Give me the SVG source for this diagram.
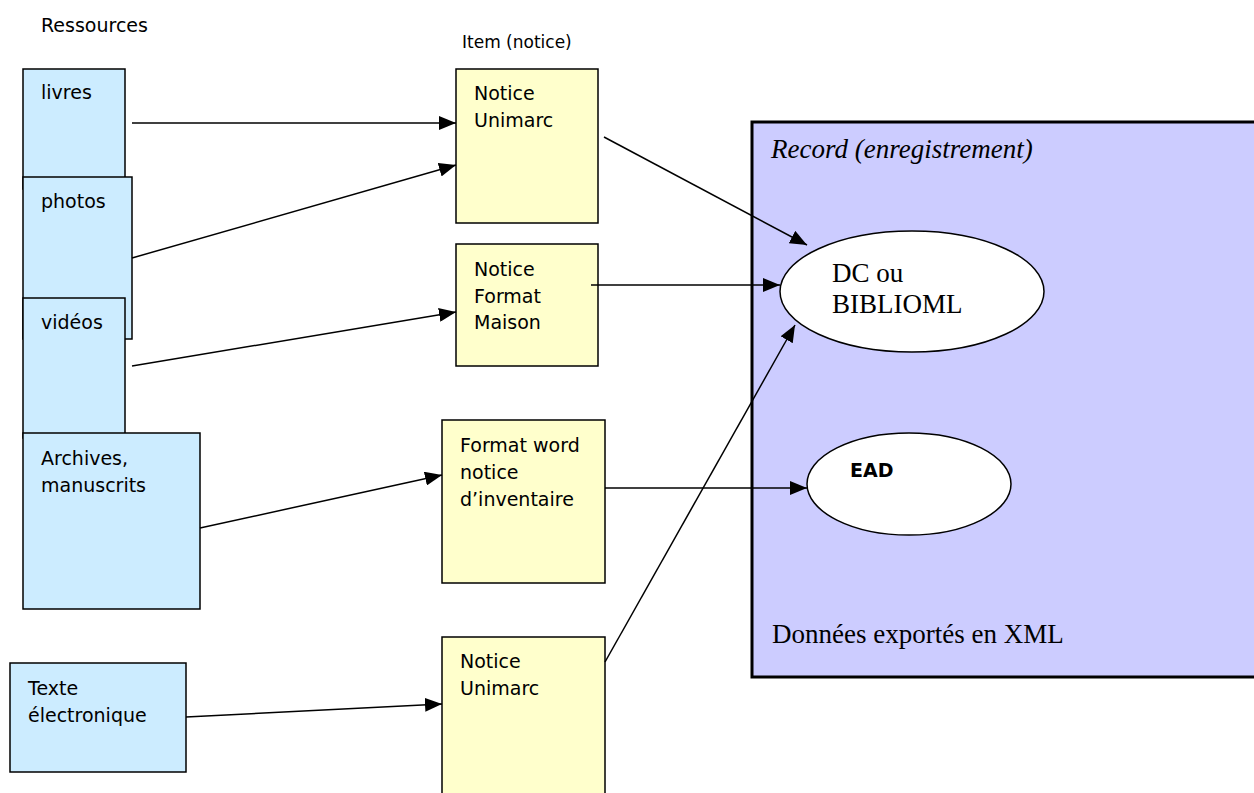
<svg xmlns="http://www.w3.org/2000/svg" width="1254" height="793" viewBox="0 0 1254 793">
<defs>
<style>
.res{fill:#CCECFF;stroke:#000;stroke-width:1.5}
.item{fill:#FFFFCC;stroke:#000;stroke-width:1.5}
.ell{fill:#fff;stroke:#000;stroke-width:1.5}
.sans{font-family:"DejaVu Sans","Verdana",sans-serif;font-size:19px;fill:#000}
.serif{font-family:"Liberation Serif","Times New Roman",serif;font-size:27px;fill:#000}
.conn line{stroke:#000;stroke-width:1.5;marker-end:url(#arr)}
</style>
<marker id="arr" markerUnits="userSpaceOnUse" markerWidth="17" markerHeight="14" refX="17" refY="7" orient="auto">
<path d="M0,0 L17,7 L0,14 z" fill="#000"/>
</marker>
</defs>
<rect width="1254" height="793" fill="#fff"/>
<text class="sans" x="41" y="32">Ressources</text>
<text class="sans" x="462" y="48" style="font-size:17px">Item (notice)</text>

<g id="record">
<rect x="752" y="122" width="510" height="555" fill="#CCCCFF" stroke="#000" stroke-width="3"/>
<text class="serif" x="771" y="158" font-style="italic">Record (enregistrement)</text>
<text class="serif" x="772" y="643">Données exportés en XML</text>
</g>

<g id="livres"><rect class="res" x="23" y="69" width="102" height="120"/><text class="sans" x="41" y="99">livres</text></g>
<g id="photos"><rect class="res" x="23" y="177" width="109" height="162"/><text class="sans" x="41" y="208">photos</text></g>
<g id="videos"><rect class="res" x="23" y="298" width="102" height="140"/><text class="sans" x="41" y="329">vidéos</text></g>
<g id="archives"><rect class="res" x="23" y="433" width="177" height="176"/><text class="sans" x="41" y="465">Archives,</text><text class="sans" x="41" y="492">manuscrits</text></g>
<g id="texte"><rect class="res" x="10" y="663" width="176" height="109"/><text class="sans" x="28" y="695">Texte</text><text class="sans" x="28" y="722">électronique</text></g>

<g id="unimarc1"><rect class="item" x="456" y="69" width="142" height="154"/><text class="sans" x="474" y="100">Notice</text><text class="sans" x="474" y="127">Unimarc</text></g>
<g id="maison"><rect class="item" x="456" y="244" width="142" height="122"/><text class="sans" x="474" y="276">Notice</text><text class="sans" x="474" y="303">Format</text><text class="sans" x="474" y="329">Maison</text></g>
<g id="word"><rect class="item" x="442" y="420" width="163" height="163"/><text class="sans" x="460" y="452">Format word</text><text class="sans" x="460" y="479">notice</text><text class="sans" x="460" y="506">d’inventaire</text></g>
<g id="unimarc2"><rect class="item" x="442" y="637" width="163" height="170"/><text class="sans" x="460" y="668">Notice</text><text class="sans" x="460" y="695">Unimarc</text></g>

<g id="dc"><ellipse class="ell" cx="912" cy="291.5" rx="132" ry="60.5"/><text class="serif" x="832" y="282">DC ou</text><text class="serif" x="832" y="313">BIBLIOML</text></g>
<g id="ead"><ellipse class="ell" cx="909" cy="484" rx="102" ry="51"/><text class="sans" x="850" y="477" font-weight="bold">EAD</text></g>

<g id="connectors" class="conn">
<line x1="132" y1="123" x2="456" y2="123"/>
<line x1="132" y1="258" x2="456" y2="165"/>
<line x1="132" y1="366" x2="456" y2="312"/>
<line x1="200" y1="528" x2="442" y2="475"/>
<line x1="186" y1="717" x2="442" y2="704"/>
<line x1="604" y1="137" x2="807" y2="245"/>
<line x1="591" y1="285" x2="780" y2="285"/>
<line x1="605" y1="488" x2="807" y2="488"/>
<line x1="605" y1="662" x2="795" y2="325"/>
</g>
</svg>
